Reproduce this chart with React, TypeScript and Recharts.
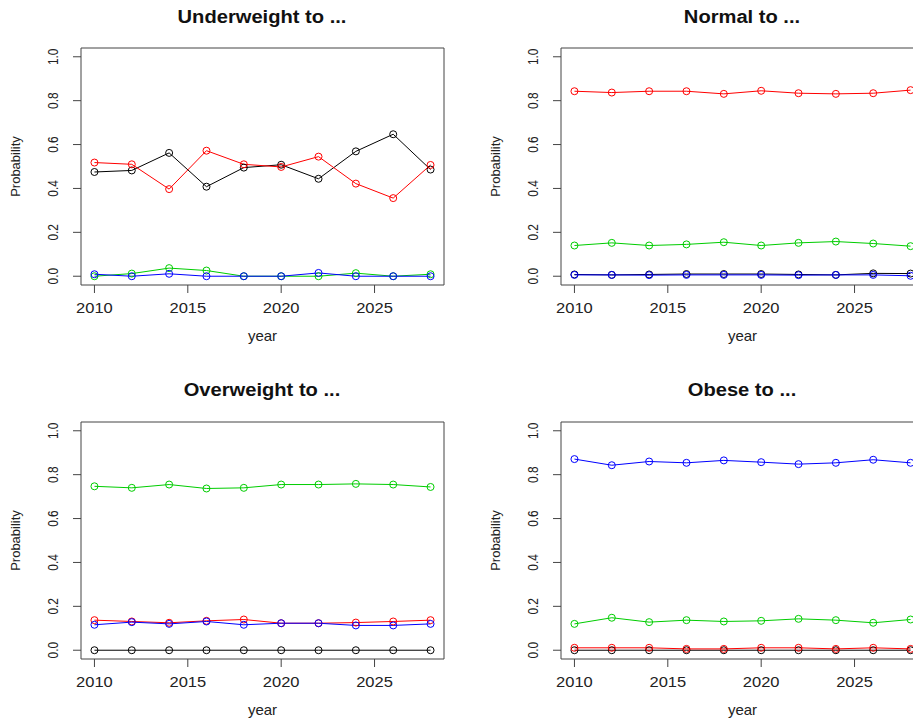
import { LineChart, Line, XAxis, YAxis, ReferenceArea } from 'recharts';

const years = [2010, 2012, 2014, 2016, 2018, 2020, 2022, 2024, 2026, 2028];
const xTicks = [2010, 2015, 2020, 2025];
const yTicks = [0, 0.2, 0.4, 0.6, 0.8, 1.0];

// black = underweight, red = normal, green = overweight, blue = obese
const underToUnder = [0.475, 0.482, 0.562, 0.408, 0.495, 0.508, 0.444, 0.569, 0.647, 0.486];
const underToNormal = [0.518, 0.51, 0.397, 0.572, 0.51, 0.498, 0.545, 0.422, 0.356, 0.507];
const underToOver = [0, 0.012, 0.037, 0.026, 0, 0, 0, 0.014, 0, 0.009];
const underToObese = [0.009, 0, 0.011, 0, 0, 0, 0.015, 0, 0, 0];

const normalToUnder = [0.008, 0.006, 0.008, 0.01, 0.01, 0.01, 0.008, 0.006, 0.013, 0.012];
const normalToNormal = [0.843, 0.837, 0.843, 0.843, 0.831, 0.845, 0.834, 0.831, 0.834, 0.848];
const normalToOver = [0.14, 0.152, 0.14, 0.145, 0.155, 0.14, 0.152, 0.158, 0.149, 0.137];
const normalToObese = [0.006, 0.006, 0.005, 0.006, 0.006, 0.006, 0.005, 0.006, 0.006, 0.002];

const overToUnder = [0, 0, 0, 0, 0, 0, 0, 0, 0, 0];
const overToNormal = [0.137, 0.131, 0.125, 0.134, 0.14, 0.123, 0.123, 0.126, 0.131, 0.137];
const overToOver = [0.747, 0.74, 0.755, 0.737, 0.74, 0.755, 0.755, 0.758, 0.755, 0.744];
const overToObese = [0.116, 0.128, 0.12, 0.131, 0.116, 0.123, 0.123, 0.113, 0.113, 0.12];

const obeseToUnder = [0, 0, 0, 0, 0, 0, 0, 0, 0, 0];
const obeseToNormal = [0.011, 0.011, 0.011, 0.006, 0.006, 0.011, 0.011, 0.006, 0.011, 0.006];
const obeseToOver = [0.12, 0.148, 0.128, 0.137, 0.131, 0.134, 0.143, 0.137, 0.125, 0.14];
const obeseToObese = [0.871, 0.843, 0.86, 0.854, 0.865, 0.857, 0.848, 0.854, 0.868, 0.854];

const FONT = '"Liberation Sans", Arial, sans-serif';
const X_DOMAIN: [number, number] = [2009.28, 2028.72];
const Y_DOMAIN: [number, number] = [-0.04, 1.04];

const series = [
  { key: 'under', color: '#000000' },
  { key: 'normal', color: '#ff0000' },
  { key: 'over', color: '#00cd00' },
  { key: 'obese', color: '#0000ff' },
];

// the source image is a little stretched sideways, so the labels are too
function XTick(props: any) {
  const { x, payload } = props;
  return (
    <text
      transform={`translate(${x} 312.5) scale(1.18 1)`}
      textAnchor="middle"
      fontSize={14}
      fontFamily={FONT}
      fill="#222"
    >
      {payload.value}
    </text>
  );
}

function YTick(props: any) {
  const { y, payload } = props;
  return (
    <text
      transform={`translate(53 ${y}) rotate(-90) scale(0.88 1.1)`}
      textAnchor="middle"
      dy="0.36em"
      fontSize={13.5}
      fontFamily={FONT}
      fill="#222"
    >
      {Number(payload.value).toFixed(1)}
    </text>
  );
}

type PanelProps = {
  title: string;
  left: number;
  top: number;
  under: number[];
  normal: number[];
  over: number[];
  obese: number[];
};

function Panel({ title, left, top, under, normal, over, obese }: PanelProps) {
  const data = years.map((year, i) => ({
    year,
    under: under[i],
    normal: normal[i],
    over: over[i],
    obese: obese[i],
  }));

  return (
    <div style={{ position: 'absolute', left, top, width: 460, height: 360 }}>
      <LineChart width={460} height={360} data={data} margin={{ top: 48, right: 16, bottom: 0, left: 0 }}>
        <XAxis
          dataKey="year"
          type="number"
          domain={X_DOMAIN}
          ticks={xTicks}
          allowDataOverflow
          axisLine={false}
          tickLine={{ stroke: '#444' }}
          tickSize={8}
          height={75}
          tick={<XTick />}
          label={{ value: 'year', position: 'insideBottom', offset: 19, fontSize: 15, fill: '#222', fontFamily: FONT }}
        />
        <YAxis
          type="number"
          domain={Y_DOMAIN}
          ticks={yTicks}
          allowDataOverflow
          axisLine={false}
          tickLine={{ stroke: '#444' }}
          tickSize={8}
          width={81}
          tick={<YTick />}
          label={{
            value: 'Probability',
            angle: -90,
            position: 'insideLeft',
            offset: 15,
            fontSize: 13,
            fill: '#222',
            fontFamily: FONT,
            style: { textAnchor: 'middle' },
          }}
        />
        <ReferenceArea
          x1={X_DOMAIN[0]}
          x2={X_DOMAIN[1]}
          y1={Y_DOMAIN[0]}
          y2={Y_DOMAIN[1]}
          fill="none"
          stroke="#444"
          strokeWidth={1}
          ifOverflow="visible"
        />
        {series.map((s) => (
          <Line
            key={s.key}
            dataKey={s.key}
            type="linear"
            stroke={s.color}
            strokeWidth={1}
            dot={{ r: 3.5, fill: 'none', stroke: s.color, strokeWidth: 1 }}
            activeDot={false}
            isAnimationActive={false}
          />
        ))}
      </LineChart>
      <div
        style={{
          position: 'absolute',
          left: 0,
          width: 524,
          top: 8.5,
          textAlign: 'center',
          fontFamily: FONT,
          fontWeight: 'bold',
          fontSize: 17.5,
          lineHeight: '17.5px',
          color: '#111',
          transform: 'scaleX(1.15)',
          transformOrigin: '262px 0',
        }}
      >
        {title}
      </div>
    </div>
  );
}

export default function App() {
  return (
    <div
      style={{
        position: 'absolute',
        left: 0,
        top: 0,
        width: 913,
        height: 719,
        overflow: 'hidden',
        background: '#fff',
      }}
    >
      <Panel title="Underweight to ..." left={0} top={0} under={underToUnder} normal={underToNormal} over={underToOver} obese={underToObese} />
      <Panel title="Normal to ..." left={480} top={0} under={normalToUnder} normal={normalToNormal} over={normalToOver} obese={normalToObese} />
      <Panel title="Overweight to ..." left={0} top={373.5} under={overToUnder} normal={overToNormal} over={overToOver} obese={overToObese} />
      <Panel title="Obese to ..." left={480} top={373.5} under={obeseToUnder} normal={obeseToNormal} over={obeseToOver} obese={obeseToObese} />
    </div>
  );
}
